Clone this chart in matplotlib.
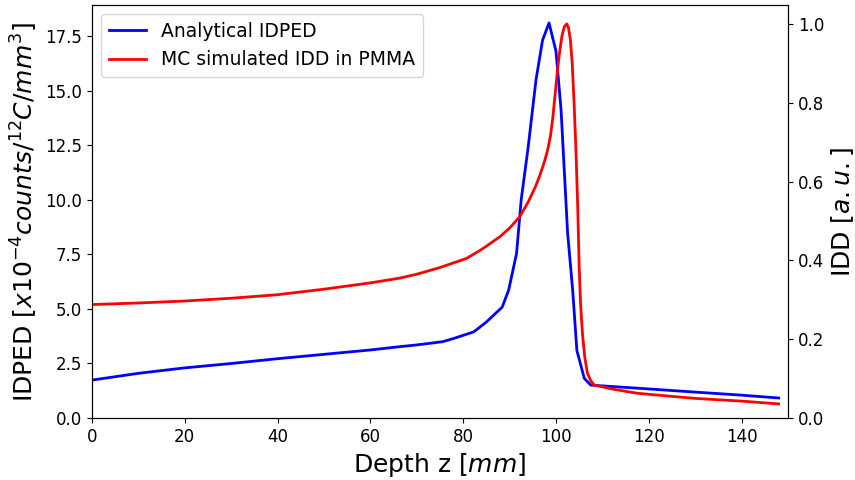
import matplotlib
matplotlib.use('Agg')
import matplotlib.pyplot as plt

# Analytical IDPED (left axis)
z_idped = [0, 10, 20, 30, 40, 50, 60, 66.3, 70, 75.6, 78, 82.3, 85, 88.4, 89.8, 91.5,
           92.5, 94.0, 95.7, 97.1, 98.5, 100.0, 101.1, 102.5, 103.6, 104.5, 106.1,
           107.5, 117.5, 130, 140, 148]
idped = [1.74, 2.05, 2.3, 2.5, 2.72, 2.92, 3.12, 3.27, 3.35, 3.5, 3.65, 3.95, 4.4, 5.08,
         5.86, 7.54, 9.99, 12.4, 15.5, 17.3, 18.1, 16.8, 14.1, 8.5, 5.86, 3.1, 1.82,
         1.51, 1.37, 1.19, 1.05, 0.92]

# MC simulated IDD in PMMA (right axis)
z_idd = [0, 10, 20, 30, 40, 50, 60, 66.3, 70, 75, 80.7, 84, 87.9, 90, 92.2, 94, 95.5,
         96.5, 97.5, 98.2, 98.8, 99.3, 99.8, 100.3, 100.8, 101.3, 101.8, 102.3, 102.7,
         103.1, 103.5, 103.9, 104.3, 104.7, 105.0, 105.3, 105.7, 106.2, 106.8, 107.5,
         108.2, 112, 117.5, 125, 130, 140, 148]
idd = [0.288, 0.292, 0.297, 0.304, 0.313, 0.327, 0.343, 0.355, 0.365, 0.382, 0.405,
       0.428, 0.46, 0.482, 0.511, 0.548, 0.585, 0.615, 0.65, 0.68, 0.715, 0.76, 0.82,
       0.88, 0.93, 0.97, 0.993, 1.0, 0.99, 0.96, 0.9, 0.8, 0.68, 0.53, 0.384, 0.29,
       0.215, 0.155, 0.113, 0.095, 0.084, 0.074, 0.063, 0.055, 0.05, 0.043, 0.036]

fig = plt.figure(figsize=(8.55, 4.8), dpi=100)
ax1 = fig.add_axes([0.1076, 0.129, 0.8140, 0.8606])
ax2 = ax1.twinx()

l1, = ax1.plot(z_idped, idped, '-', c='blue', lw=2, label='Analytical IDPED')
l2, = ax2.plot(z_idd, idd, '-', c='red', lw=2, label='MC simulated IDD in PMMA')

ax1.set_xlim((0, 150))
ax1.set_ylim((0, 18.92))
ax2.set_ylim((0, 1.048))

ax1.tick_params(labelsize=12)
ax2.tick_params(labelsize=12)

ax1.set_xlabel(r'Depth z [$mm$]', fontsize=18)
ax1.set_ylabel(r'IDPED [$x10^{-4} counts/^{12}C/mm^{3}$]', fontsize=18)
ax2.set_ylabel(r'IDD [$a.u.$]', fontsize=18)

ax1.legend(handles=[l1, l2], loc='upper left', fontsize=13.5)

fig.savefig('out.png', dpi=100)
